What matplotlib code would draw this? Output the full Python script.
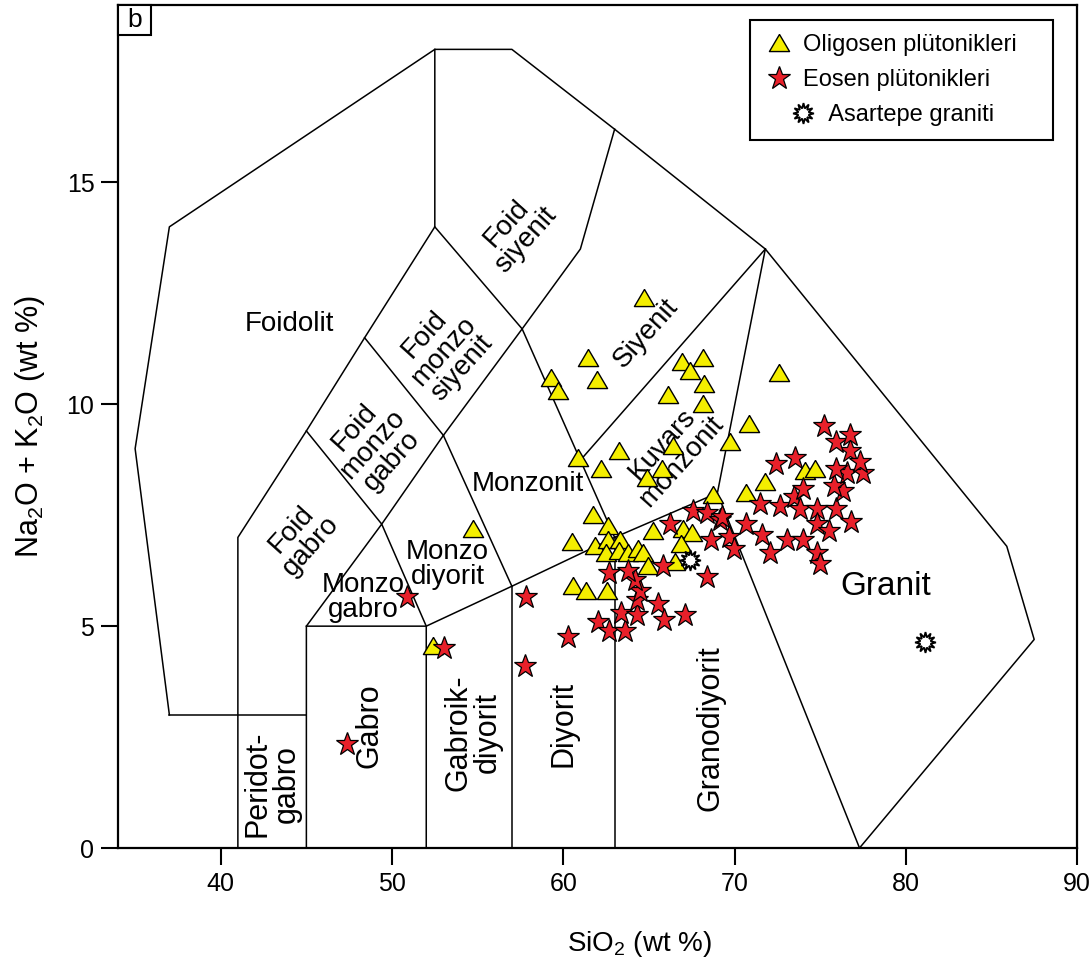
import matplotlib
matplotlib.use("Agg")
import matplotlib.pyplot as plt
from matplotlib.lines import Line2D
from matplotlib.patches import Rectangle
from matplotlib.legend_handler import HandlerLine2D

plt.rcParams['font.family'] = ['Liberation Sans', 'DejaVu Sans']
plt.rcParams['mathtext.fontset'] = 'custom'
plt.rcParams['mathtext.rm'] = 'Liberation Sans'
plt.rcParams['mathtext.it'] = 'Liberation Sans:italic'

# TAS field boundaries (plutonic rocks), as polylines of (SiO2, Na2O+K2O)
boundaries = [
    [(37, 3), (35, 9), (37, 14), (52.5, 18), (57, 18), (63, 16.2), (71.8, 13.5),
     (85.9, 6.8), (87.5, 4.7), (77.3, 0)],
    [(37, 3), (45, 3)],
    [(41, 0), (41, 7), (45, 9.4), (48.4, 11.5), (52.5, 14), (52.5, 18)],
    [(52.5, 14), (57.6, 11.7), (61, 13.5), (63, 16.2)],
    [(48.4, 11.5), (53, 9.3), (57, 5.9)],
    [(53, 9.3), (57.6, 11.7), (63, 7)],
    [(45, 9.4), (49.4, 7.3), (53, 9.3)],
    [(45, 0), (45, 5), (49.4, 7.3), (52, 5), (52, 0)],
    [(45, 5), (52, 5), (57, 5.9), (63, 7), (69, 8), (71.8, 13.5)],
    [(57, 0), (57, 5.9)],
    [(63, 0), (63, 7)],
    [(69, 8), (77.3, 0)],
    [(61.0, 8.74), (71.8, 13.5)],
]

# field names
field_names = ["Foidolit", "Foid\nsiyenit", "Foid\nmonzo\nsiyenit", "Foid\nmonzo\ngabro",
               "Foid\ngabro", "Siyenit", "Kuvars\nmonzonit", "Monzonit", "Monzo\ndiyorit",
               "Monzo\ngabro", "Peridot-\ngabro", "Gabro", "Gabroik-\ndiyorit", "Diyorit",
               "Granodiyorit", "Granit"]

# Oligosen plutonics
olig_sio2 = [64.7, 61.45, 61.95, 59.3, 59.7, 66.95, 67.4, 68.15, 68.2, 68.15, 66.1, 72.6,
             70.85, 69.75, 66.4, 63.25, 62.2, 60.85, 65.75, 64.9, 68.75, 70.65, 71.8, 74.1,
             74.7, 61.75, 62.6, 60.5, 61.85, 62.6, 63.3, 62.5, 63.25, 63.8, 64.35, 64.65,
             65.25, 64.95, 67.0, 67.5, 66.9, 66.5, 60.55, 61.35, 62.55, 54.75, 52.4]
olig_alk = [12.4, 11.05, 10.55, 10.6, 10.3, 10.95, 10.75, 11.05, 10.45, 10.0, 10.2, 10.7,
            9.55, 9.15, 9.05, 8.95, 8.55, 8.8, 8.55, 8.35, 7.95, 8.0, 8.25, 8.5,
            8.55, 7.5, 7.25, 6.9, 6.8, 6.95, 6.95, 6.65, 6.7, 6.65, 6.75, 6.65,
            7.15, 6.35, 7.2, 7.1, 6.85, 6.45, 5.9, 5.8, 5.8, 7.2, 4.55]

# Eosen plutonics
eos_sio2 = [50.85, 53.05, 47.4, 57.85, 57.75, 60.3, 62.0, 62.7, 63.6, 63.4, 64.3, 64.3,
            65.55, 65.9, 67.1, 64.5, 64.2, 62.7, 63.8, 65.8, 68.4, 66.25, 67.6, 68.4,
            69.15, 68.6, 69.65, 69.95, 69.25, 70.7, 71.6, 71.5, 72.1, 72.65, 72.45, 73.55,
            73.05, 73.45, 73.8, 74.0, 74.0, 74.8, 74.8, 75.5, 74.8, 75.0, 75.9, 76.35,
            76.8, 75.8, 76.55, 77.5, 75.95, 76.75, 75.2, 75.9, 76.75, 77.35]
eos_alk = [5.65, 4.5, 2.35, 5.65, 4.1, 4.75, 5.1, 4.9, 4.9, 5.3, 5.25, 5.6,
           5.5, 5.15, 5.25, 5.8, 6.05, 6.2, 6.25, 6.35, 6.1, 7.3, 7.6, 7.55,
           7.4, 6.95, 7.0, 6.75, 7.45, 7.3, 7.05, 7.75, 6.65, 7.7, 8.65, 8.8,
           6.95, 7.9, 7.65, 6.95, 8.1, 7.65, 7.3, 7.15, 6.65, 6.4, 7.65, 8.05,
           7.35, 8.15, 8.45, 8.45, 8.55, 8.95, 9.5, 9.15, 9.3, 8.7]

# Asartepe granite
asar_sio2 = [67.4, 81.1]
asar_alk = [6.5, 4.65]

legend_labels = ["Oligosen plütonikleri", "Eosen plütonikleri", "    Asartepe graniti"]

YELLOW = '#f4ee00'
RED = '#e8202a'
TRI = [(0, 0.9), (-1, -0.8), (1, -0.8), (0, 0.9)]
ASAR = (12, 1, 0)


class ShiftedMarker(HandlerLine2D):
    """Legend handler that moves the marker to the right (indented entry)."""

    def __init__(self, shift, **kw):
        super().__init__(**kw)
        self.shift = shift

    def create_artists(self, legend, orig_handle, xdescent, ydescent, width, height,
                       fontsize, trans):
        artists = super().create_artists(legend, orig_handle, xdescent, ydescent,
                                         width, height, fontsize, trans)
        for a in artists:
            a.set_xdata([x + self.shift for x in a.get_xdata()])
        return artists


fig = plt.figure(figsize=(10.92, 9.63), dpi=100)
ax = fig.add_axes([118 / 1092, 115 / 963, 959 / 1092, 843 / 963])

for line in boundaries:
    xs, ys = zip(*line)
    ax.plot(xs, ys, color='black', lw=1.1, zorder=1)

# label placement: (x, y, rotation, fontsize)
label_pos = [(44.0, 11.8, 0, 20), (57.25, 13.9, 48, 20), (53.0, 11.2, 48, 20),
             (48.9, 9.1, 48, 20), (44.7, 7.0, 48, 20), (64.85, 11.6, 48, 20),
             (66.35, 8.9, 48, 20), (57.95, 8.2, 0, 20), (53.25, 6.4, 0, 20),
             (48.3, 5.64, 0, 20), (43.0, 1.45, 90, 22), (48.7, 2.75, 90, 22),
             (54.75, 2.6, 90, 22), (60.0, 2.8, 90, 22), (68.6, 2.7, 90, 22),
             (78.85, 5.9, 0, 24)]
for name, (x, y, rot, fs) in zip(field_names, label_pos):
    ax.text(x, y, name, rotation=rot, fontsize=fs, ha='center', va='center',
            multialignment='center', linespacing=0.95, rotation_mode='anchor', zorder=2)

ax.plot(olig_sio2, olig_alk, ls='none', marker=TRI, ms=14.5, mfc=YELLOW, mec='black',
        mew=1.0, zorder=3)
ax.plot(eos_sio2, eos_alk, ls='none', marker='*', ms=17, mfc=RED, mec='black',
        mew=0.9, zorder=4)
ax.plot(asar_sio2, asar_alk, ls='none', marker=ASAR, ms=15, mfc='white', mec='black',
        mew=1.3, zorder=5)

handles = [
    Line2D([], [], ls='none', marker=TRI, ms=14.5, mfc=YELLOW, mec='black', mew=1.0),
    Line2D([], [], ls='none', marker='*', ms=17, mfc=RED, mec='black', mew=0.9),
    Line2D([], [], ls='none', marker=ASAR, ms=15, mfc='white', mec='black', mew=1.3),
]
leg_fs = 17
leg = ax.legend(handles, legend_labels, loc='upper left',
                bbox_to_anchor=(0.659, 0.782, 0.316, 0.2), mode='expand',
                borderaxespad=0, fancybox=False, edgecolor='black', fontsize=leg_fs,
                handletextpad=0.34, borderpad=0.6, labelspacing=0.55, handlelength=1.3,
                framealpha=1,
                handler_map={handles[2]: ShiftedMarker(shift=(0.65 + 0.34) * leg_fs)})
leg.get_frame().set_linewidth(1.5)

# panel letter box
ax.add_patch(Rectangle((0, 1 - 30 / 843), 33 / 959, 30 / 843, transform=ax.transAxes,
                       fc='white', ec='black', lw=1.5, zorder=6, clip_on=False))
ax.text(16.5 / 959, 1 - 15 / 843, 'b', transform=ax.transAxes, ha='center', va='center',
        fontsize=19, zorder=7)

ax.set_xlim(34, 90)
ax.set_ylim(0, 19)
ax.set_xticks([40, 50, 60, 70, 80, 90])
ax.set_yticks([0, 5, 10, 15])
ax.tick_params(axis='both', direction='out', length=12.5, width=1.5, labelsize=18, pad=4.5)
for sp in ax.spines.values():
    sp.set_linewidth(1.6)

ax.set_xlabel('SiO$_2$ (wt %)', fontsize=20, labelpad=24)
ax.xaxis.label.set_x(0.544)
ax.set_ylabel('Na$_2$O + K$_2$O (wt %)', fontsize=22, labelpad=14)

fig.savefig('out.png', dpi=100)
